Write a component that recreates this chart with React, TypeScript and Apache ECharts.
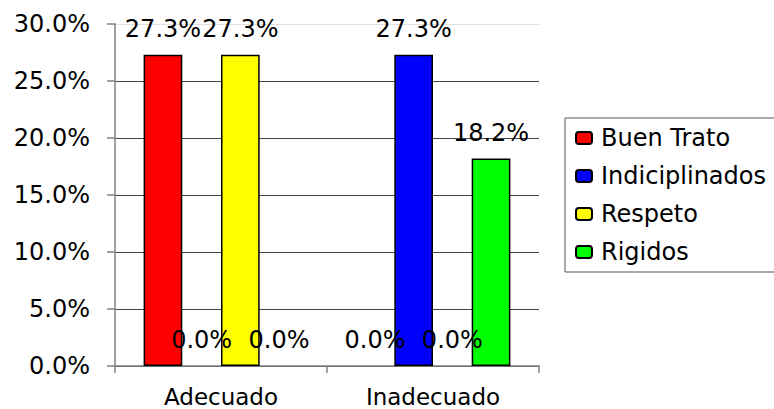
import React, { useEffect, useRef } from "react";
import * as echarts from "echarts";

const categories = ["Adecuado", "Inadecuado"];
const seriesNames = ["Buen Trato", "Indiciplinados", "Respeto", "Rigidos"];
const buenTrato = [27.3, 0.0];
const indiciplinados = [0.0, 27.3];
const respeto = [27.3, 0.0];
const rigidos = [0.0, 18.2];
const colors = ["#ff0000", "#0000ff", "#ffff00", "#00ff00"];

const FONT = "DejaVu Sans";

export default function App() {
  const ref = useRef<HTMLDivElement>(null);
  useEffect(() => {
    if (!ref.current) return;
    const chart = echarts.init(ref.current, undefined, { renderer: "svg" });
    const data = [buenTrato, indiciplinados, respeto, rigidos];
    chart.setOption({
      animation: false,
      backgroundColor: "#ffffff",
      textStyle: { fontFamily: FONT },
      grid: { left: 115, right: 235, top: 24, bottom: 43, containLabel: false },
      legend: {
        orient: "vertical",
        left: 565,
        top: 118,
        width: 220,
        padding: [8, 30, 8, 10],
        itemGap: 14,
        itemWidth: 16,
        itemHeight: 12,
        borderColor: "#555555",
        borderWidth: 1,
        textStyle: { fontFamily: FONT, fontSize: 24, color: "#000", lineHeight: 24, padding: [0, 0, 0, 4] },
        data: seriesNames,
      },
      xAxis: {
        type: "category",
        data: categories,
        axisLine: { lineStyle: { color: "#808080", width: 1.5 } },
        axisTick: { show: true, length: 7, alignWithLabel: false, lineStyle: { color: "#808080", width: 1.5 } },
        axisLabel: { fontFamily: FONT, fontSize: 23, lineHeight: 23, color: "#000", margin: 19 },
        splitLine: { show: false },
      },
      yAxis: {
        type: "value",
        min: 0,
        max: 30,
        interval: 5,
        axisLine: { show: true, lineStyle: { color: "#808080", width: 1.5 } },
        axisTick: { show: true, length: 8, lineStyle: { color: "#808080", width: 1.5 } },
        axisLabel: {
          fontFamily: FONT,
          fontSize: 24,
          color: "#000",
          margin: 25,
          formatter: (v: number) => v.toFixed(1) + "%",
        },
        splitLine: {
          show: true,
          lineStyle: {
            color: ["#444444", "#444444", "#444444", "#444444", "#444444", "#444444", "#e0e0e0"],
            width: 1,
          },
        },
      },
      series: seriesNames.map((name, i) => ({
        name,
        type: "bar",
        data: data[i].map((v) => (v === 0 ? { value: v, itemStyle: { borderWidth: 0 } } : v)),
        barGap: "0%",
        barCategoryGap: "27%",
        itemStyle: { color: colors[i], borderColor: "#000", borderWidth: 1.5 },
        label: {
          show: true,
          position: "top",
          distance: 14,
          fontFamily: FONT,
          fontSize: 24,
          lineHeight: 24,
          color: "#000",
          formatter: (p: any) => Number(p.value).toFixed(1) + "%",
        },
      })),
    });
    return () => chart.dispose();
  }, []);
  return <div ref={ref} style={{ width: 774, height: 409, position: "absolute", left: 0, top: 0 }} />;
}
